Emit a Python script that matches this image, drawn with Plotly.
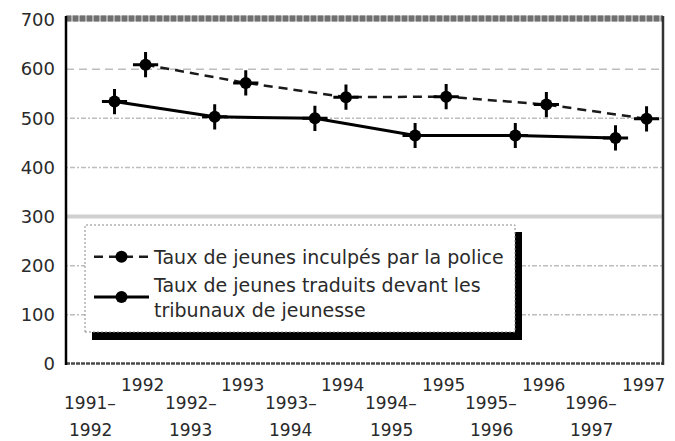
import plotly.graph_objects as go

# ---- data ----
police_years = ["1992", "1993", "1994", "1995", "1996", "1997"]
police_rates = [609, 572, 543, 544, 528, 499]

court_years = ["1991–\n1992", "1992–\n1993", "1993–\n1994", "1994–\n1995", "1995–\n1996", "1996–\n1997"]
court_rates = [534, 503, 500, 465, 465, 460]

y_ticks = [0, 100, 200, 300, 400, 500, 600, 700]

police_name = "Taux de jeunes inculpés par la police"
court_name = "Taux de jeunes traduits devant les<br>tribunaux de jeunesse"

# ---- positions (calendar years sit a third of a step after the fiscal years) ----
OFFSET = 0.31
court_x = list(range(len(court_years)))
police_x = [i + OFFSET for i in range(len(police_years))]

FONT = "DejaVu Sans"
TXT = "#2a2a2a"

fig = go.Figure()

fig.add_trace(go.Scatter(
    x=police_x, y=police_rates, name=police_name, mode="lines+markers",
    line=dict(color="#1a1a1a", width=2.5, dash="9px,6px"),
    marker=dict(symbol="circle", size=12, color="#000"),
))
fig.add_trace(go.Scatter(
    x=court_x, y=court_rates, name=court_name, mode="lines+markers",
    line=dict(color="#000", width=3),
    marker=dict(symbol="circle", size=12, color="#000"),
))
# cross accents on markers
for xs, ys in ((police_x, police_rates), (court_x, court_rates)):
    fig.add_trace(go.Scatter(
        x=xs, y=ys, mode="markers", showlegend=False, hoverinfo="skip",
        marker=dict(symbol="cross-thin-open", size=18, color="#000",
                    line=dict(color="#000", width=3)),
    ))

X0, X1 = -0.484, 5.474

# page is rendered with an 8px body margin -> compensate
BODY = 8
W, H = 675, 441
PL, PR, PT, PB = 66, 663, 20, 364   # desired plot area in page pixels
def px(xp): return (xp - PL) / (PR - PL)
def py(yp): return (PB - yp) / (PB - PT)

shapes = []
# gridlines
grid_styles = {
    600: dict(color="#bdbdbd", width=1.5, dash="8px,5px"),
    500: dict(color="#bdbdbd", width=1.5, dash="2px,2px,5px,2px"),
    400: dict(color="#bdbdbd", width=1.5, dash="2px,2px,5px,2px"),
    200: dict(color="#bdbdbd", width=1.5, dash="2px,2px,5px,2px"),
    100: dict(color="#bdbdbd", width=1.5, dash="2px,2px,5px,2px"),
    300: dict(color="#d0d0d0", width=4),
}
for v in y_ticks:
    if v in grid_styles:
        shapes.append(dict(type="line", xref="x", yref="y", x0=X0, x1=X1, y0=v, y1=v,
                           line=grid_styles[v], layer="below"))
# top border (patterned gray band)
shapes.append(dict(type="line", xref="paper", yref="paper", x0=0, x1=1, y0=py(18.5), y1=py(18.5),
                   line=dict(color="#b0b0b0", width=6)))
shapes.append(dict(type="line", xref="paper", yref="paper", x0=0, x1=1, y0=py(18.5), y1=py(18.5),
                   line=dict(color="#707070", width=6, dash="5px,2px")))
# bottom axis
shapes.append(dict(type="line", xref="paper", yref="paper", x0=0, x1=1, y0=py(363.5), y1=py(363.5),
                   line=dict(color="#4a4a4a", width=2.5, dash="4px,1px")))
# left axis
shapes.append(dict(type="line", xref="paper", yref="paper", x0=0, x1=0, y0=py(365), y1=py(16),
                   line=dict(color="#000", width=2.5)))
# right border
shapes.append(dict(type="line", xref="paper", yref="paper", x0=1, x1=1, y0=py(365), y1=py(16),
                   line=dict(color="#333", width=2.5)))

# legend shadow + box
shapes.append(dict(type="rect", xref="paper", yref="paper",
                   x0=px(92), x1=px(522), y0=py(340), y1=py(330),
                   line=dict(width=0), fillcolor="#000"))
shapes.append(dict(type="rect", xref="paper", yref="paper",
                   x0=px(513), x1=px(522), y0=py(340), y1=py(232),
                   line=dict(width=0), fillcolor="#000"))
shapes.append(dict(type="rect", xref="paper", yref="paper",
                   x0=px(85), x1=px(515), y0=py(332), y1=py(225),
                   line=dict(width=1, color="#8a8a8a", dash="2px,2px"), fillcolor="white"))

annotations = []
for i, lab in enumerate(police_years):
    annotations.append(dict(x=police_x[i] - 0.03, y=py(385), xref="x", yref="paper",
                            text=lab, showarrow=False, xanchor="center", yanchor="middle",
                            font=dict(family=FONT, size=17, color=TXT)))
for i, lab in enumerate(court_years):
    for j, part in enumerate(lab.split("\n")):
        annotations.append(dict(x=court_x[i] - 0.24, y=py(403 + 27 * j), xref="x", yref="paper",
                                text=part, showarrow=False, xanchor="center", yanchor="middle",
                                font=dict(family=FONT, size=17, color=TXT)))

fig.update_layout(
    width=W - BODY, height=H - BODY,
    margin=dict(l=PL - BODY, r=W - PR, t=PT - BODY, b=H - PB, pad=0, autoexpand=False),
    paper_bgcolor="white", plot_bgcolor="white",
    showlegend=True,
    legend=dict(x=px(89), y=py(238), xanchor="left", yanchor="top",
                bgcolor="rgba(0,0,0,0)", borderwidth=0,
                font=dict(family=FONT, size=19, color=TXT),
                itemwidth=55, tracegroupgap=6),
    xaxis=dict(range=[X0, X1], showgrid=False, zeroline=False, showline=False,
               showticklabels=False, ticks="", automargin=False),
    yaxis=dict(range=[0, 700], tickvals=y_ticks, showgrid=False, zeroline=False,
               showline=False, ticks="", ticklabelstandoff=10, automargin=False,
               tickfont=dict(family=FONT, size=18, color=TXT)),
    shapes=shapes, annotations=annotations,
)

fig.write_html("out.html")
